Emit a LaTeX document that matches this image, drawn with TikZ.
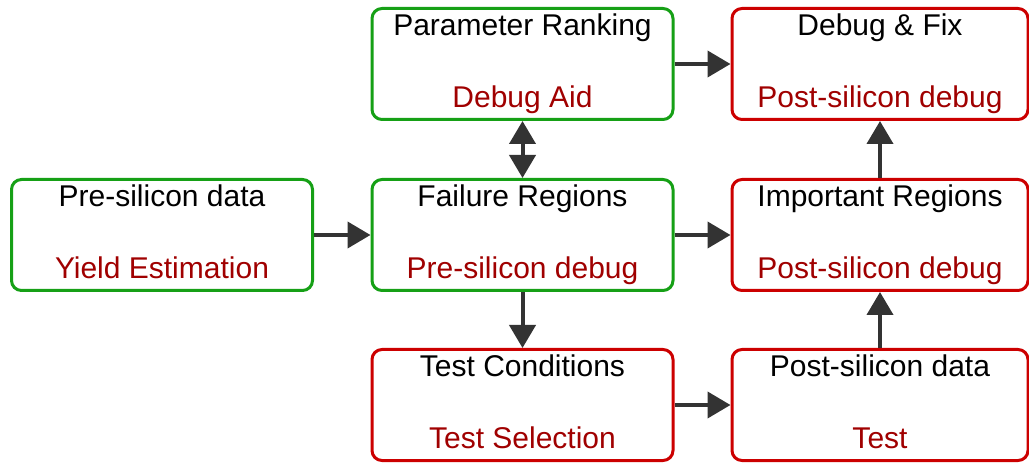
\documentclass[tikz,border=0pt]{standalone}
\usepackage{fontspec}
\setmainfont{Liberation Sans}
\usetikzlibrary{arrows.meta}
\definecolor{boxgreen}{RGB}{22,160,22}
\definecolor{boxred}{RGB}{204,0,0}
\definecolor{txtred}{RGB}{160,0,0}
\definecolor{arrowgray}{RGB}{51,51,51}

\begin{document}
\begin{tikzpicture}[x=1pt,y=1pt,
    stage/.style={draw, line width=3pt, rounded corners=10pt, minimum height=111pt,
        align=center, inner sep=0pt, font=\fontsize{30}{72}\selectfont,
        execute at end node={\rule[-7pt]{0pt}{7pt}}},
    greenbox/.style={stage, draw=boxgreen, minimum width=301pt},
    redbox/.style={stage, draw=boxred, minimum width=296pt},
    flow/.style={line width=4pt, draw=arrowgray, -{Triangle[length=23pt,width=26pt]}},
    bothflow/.style={flow, {Triangle[length=23pt,width=26pt]}-{Triangle[length=23pt,width=26pt]}}
]
    \useasboundingbox (0,0) rectangle (1029,464);

    % pre-silicon side
    \node[greenbox] (presi) at (162,229) {Pre-silicon data\\\textcolor{txtred}{Yield Estimation}};
    \node[greenbox] (rank) at (522.5,400) {Parameter Ranking\\\textcolor{txtred}{Debug Aid}};
    \node[greenbox] (fail) at (522.5,229) {Failure Regions\\\textcolor{txtred}{Pre-silicon debug}};
    \node[redbox, minimum width=301pt] (cond) at (522.5,59) {Test Conditions\\\textcolor{txtred}{Test Selection}};

    % post-silicon side
    \node[redbox] (fix) at (880,400) {Debug \& Fix\\\textcolor{txtred}{Post-silicon debug}};
    \node[redbox] (imp) at (880,229) {Important Regions\\\textcolor{txtred}{Post-silicon debug}};
    \node[redbox] (postsi) at (880,59) {Post-silicon data\\\textcolor{txtred}{Test}};

    \draw[flow] (presi) -- (fail);
    \draw[bothflow] (fail) -- (rank);
    \draw[flow] (rank) -- (fix);
    \draw[flow] (fail) -- (imp);
    \draw[flow] (fail) -- (cond);
    \draw[flow] (cond) -- (postsi);
    \draw[flow] (postsi) -- (imp);
    \draw[flow] (imp) -- (fix);
\end{tikzpicture}
\end{document}
